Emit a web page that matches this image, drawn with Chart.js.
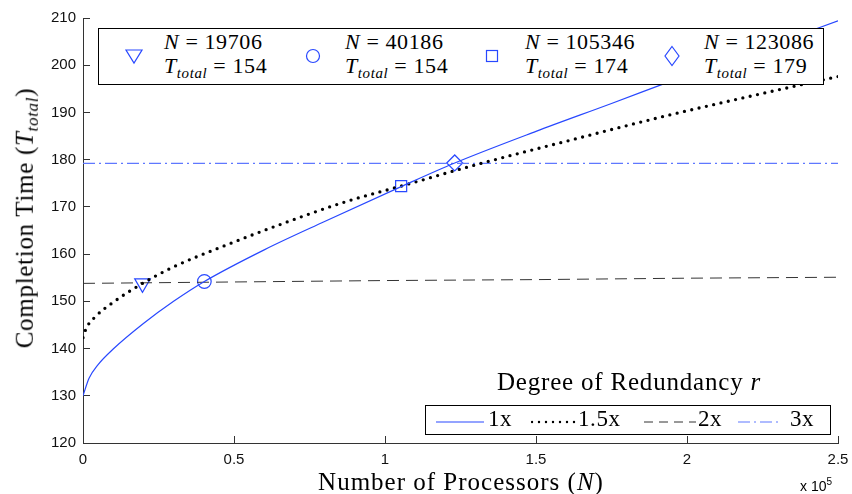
<!DOCTYPE html>
<html>
<head>
<meta charset="utf-8">
<script src="https://cdn.jsdelivr.net/npm/chart.js@4.4.1/dist/chart.umd.min.js"></script>
<style>
body { margin: 0; background: #fff; }
#wrap { position: relative; width: 852px; height: 494px; }
.txt { position: absolute; white-space: nowrap; color: #000; font-family: "Liberation Serif", serif; }
.sub { font-size: 68%; vertical-align: -0.32em; font-style: italic; }
#ytitle { left: 27px; top: 218px; font-size: 25px; letter-spacing: 0.7px; transform: translate(-50%, -50%) rotate(-90deg); }
#xtitle { left: 461px; top: 482px; font-size: 25px; letter-spacing: 1px; transform: translate(-50%, -50%); }
#exp { left: 800px; top: 476px; font-family: "Liberation Sans", sans-serif; font-size: 14px; }
#exp sup { font-size: 10px; vertical-align: 6px; }
#topLegend { position: absolute; left: 98px; top: 28px; width: 724px; height: 55px; border: 1px solid #000; background: #fff; }
#redTitle { left: 629px; top: 382px; font-size: 25px; letter-spacing: 0.8px; transform: translate(-50%, -50%); }
#botLegend { position: absolute; left: 425px; top: 405px; width: 404px; height: 28px; border: 1px solid #000; background: #fff; }
</style>
</head>
<body>
<div id="wrap">
  <canvas id="chart-area" width="852" height="494"></canvas>
  <div class="txt" id="ytitle">Completion Time (<i>T</i><span class="sub">total</span>)</div>
  <div class="txt" id="xtitle">Number of Processors (<i>N</i>)</div>
  <div class="txt" id="exp">x 10<sup>5</sup></div>
  <div id="topLegend"></div>
  <div class="txt" id="redTitle">Degree of Redundancy <i>r</i></div>
  <div id="botLegend"></div>
</div>
<script>
// curves (N, T_total)
var n1x = [0, 2000, 5000, 10000, 20000, 30000, 40186, 60000, 80000, 105346, 123086, 150000, 175000, 200000, 225000, 250000];
var t1x = [130, 133.7, 136.6, 139.9, 145.3, 150.0, 154.2, 160.9, 166.9, 174.3, 179.3, 186.0, 191.9, 197.9, 203.6, 209.4];

var n15x = [0, 1000, 4000, 10000, 19706, 30000, 45000, 65000, 87000, 105346, 130000, 160000, 190000, 220000, 250000];
var t15x = [142.3, 144.2, 146.7, 149.8, 153.8, 157.3, 161.3, 166.2, 171.1, 174.4, 178.9, 183.9, 188.8, 193.3, 197.6];

var n2x = [0, 50000, 100000, 150000, 200000, 250000];
var t2x = [153.8, 154.1, 154.4, 154.6, 154.9, 155.1];

var n3x = [0, 250000];
var t3x = [179.2, 179.2];

// crossing points marked in the figure
var markN = [19706, 40186, 105346, 123086];
var markT = [153.8, 154.2, 174.4, 179.3];
var markTotal = [154, 154, 174, 179];

var seriesNames = ["1x", "1.5x", "2x", "3x"];
var xTicks = [0, 0.5, 1, 1.5, 2, 2.5];

var blue = "rgb(40, 72, 255)";
var lightBlue = "rgb(95, 120, 255)";

function pts(xs, ys) {
    return xs.map(function (x, i) { return { x: x, y: ys[i] }; });
}

// grid only used for the short ticks, pointing into the plot (negative length)
var tickGrid = { display: true, drawOnChartArea: false, drawTicks: true, tickLength: -7, color: "#333", lineWidth: 1 };

var ctx = document.getElementById("chart-area");

var myChart = new Chart(ctx, {
    type: "scatter",
    data: {
        datasets: [
            {
                label: seriesNames[0],
                data: pts(n1x, t1x),
                showLine: true,
                borderColor: blue,
                borderWidth: 1.2,
                pointRadius: 0,
                cubicInterpolationMode: "monotone"
            },
            {
                label: seriesNames[1],
                data: pts(n15x, t15x),
                showLine: true,
                borderColor: "#000",
                borderWidth: 3.3,
                borderDash: [0, 7.5],
                borderCapStyle: "round",
                pointRadius: 0,
                cubicInterpolationMode: "monotone"
            },
            {
                label: seriesNames[2],
                data: pts(n2x, t2x),
                showLine: true,
                borderColor: "#333",
                borderWidth: 1,
                borderDash: [12, 7],
                pointRadius: 0
            },
            {
                label: seriesNames[3],
                data: pts(n3x, t3x),
                showLine: true,
                borderColor: lightBlue,
                borderWidth: 1.2,
                borderDash: [12, 4, 2, 4],
                pointRadius: 0
            },
            {
                label: "marks",
                data: pts(markN, markT),
                showLine: false,
                pointStyle: ["triangle", "circle", "rect", "rectRot"],
                rotation: [180, 0, 0, 0],
                pointRadius: [9, 6.8, 7.8, 8],
                pointBorderColor: blue,
                pointBackgroundColor: "rgba(0,0,0,0)",
                pointBorderWidth: 1.2
            }
        ]
    },
    options: {
        responsive: false,
        animation: false,
        layout: { padding: { left: 0, right: 14, top: 18, bottom: 0 } },
        plugins: {
            legend: { display: false },
            tooltip: { enabled: false }
        },
        scales: {
            x: {
                type: "linear",
                min: 0,
                max: 250000,
                afterFit: function (s) {
                    s.height = 51;
                    s.paddingLeft = 0;
                    s.paddingRight = 0;
                },
                afterBuildTicks: function (s) {
                    s.ticks = xTicks.map(function (v) { return { value: v * 1e5 }; });
                },
                ticks: {
                    padding: 15,
                    maxRotation: 0,
                    color: "#111",
                    font: { family: "Liberation Sans", size: 15 },
                    callback: function (v) { return String(v / 1e5); }
                },
                grid: tickGrid,
                border: { display: true, color: "#333", width: 1 }
            },
            y: {
                min: 120,
                max: 210,
                afterFit: function (s) {
                    s.width = 83;
                    s.paddingTop = 0;
                    s.paddingBottom = 0;
                },
                ticks: {
                    stepSize: 10,
                    padding: 14,
                    color: "#111",
                    font: { family: "Liberation Sans", size: 15 }
                },
                grid: tickGrid,
                border: { display: true, color: "#333", width: 1 }
            }
        }
    }
});

// top legend: markers with N and T_total
var markSvg = [
    '<svg width="20" height="20"><polygon points="2,4 18,4 10,17" fill="none" stroke="' + blue + '" stroke-width="1.2"/></svg>',
    '<svg width="20" height="20"><circle cx="10" cy="10" r="6.5" fill="none" stroke="' + blue + '" stroke-width="1.2"/></svg>',
    '<svg width="20" height="20"><rect x="4.5" y="4.5" width="11" height="11" fill="none" stroke="' + blue + '" stroke-width="1.2"/></svg>',
    '<svg width="20" height="22"><polygon points="10,1.5 17,11 10,20.5 3,11" fill="none" stroke="' + blue + '" stroke-width="1.2"/></svg>'
];
var markX = [35, 214, 393, 573];
var textX = [65, 246, 426, 605];
var topBox = document.getElementById("topLegend");
markN.forEach(function (n, i) {
    var m = document.createElement("div");
    m.style.cssText = "position:absolute;left:" + (markX[i] - 10) + "px;top:" + (i == 3 ? 16 : 17) + "px;";
    m.innerHTML = markSvg[i];
    topBox.appendChild(m);
    var t = document.createElement("div");
    t.className = "txt";
    t.style.cssText = "left:" + textX[i] + "px;top:1px;font-size:22px;line-height:24px;letter-spacing:0.6px;";
    t.innerHTML = "<i>N</i> = " + n + "<br><i>T</i><span class=\"sub\">total</span> = " + markTotal[i];
    topBox.appendChild(t);
});

// bottom legend: line samples
var dash = [
    'stroke="' + blue + '" stroke-width="1.2"',
    'stroke="#000" stroke-width="2.4" stroke-dasharray="0 7" stroke-linecap="round"',
    'stroke="#333" stroke-width="1" stroke-dasharray="9 6"',
    'stroke="' + lightBlue + '" stroke-width="1.2" stroke-dasharray="12 4 2 4"'
];
var sampleX = [9, 105, 217, 311];
var sampleW = [50, 47, 54, 45];
var labelX = [62, 152, 272, 364];
var botBox = document.getElementById("botLegend");
seriesNames.forEach(function (name, i) {
    var s = document.createElement("div");
    s.style.cssText = "position:absolute;left:" + sampleX[i] + "px;top:8px;";
    s.innerHTML = '<svg width="' + sampleW[i] + '" height="12"><line x1="1" y1="6" x2="' + (sampleW[i] - 1) + '" y2="6" ' + dash[i] + '/></svg>';
    botBox.appendChild(s);
    var t = document.createElement("div");
    t.className = "txt";
    t.style.cssText = "left:" + labelX[i] + "px;top:0px;font-size:23px;line-height:26px;letter-spacing:0.6px;";
    t.textContent = name;
    botBox.appendChild(t);
});
</script>
</body>
</html>
